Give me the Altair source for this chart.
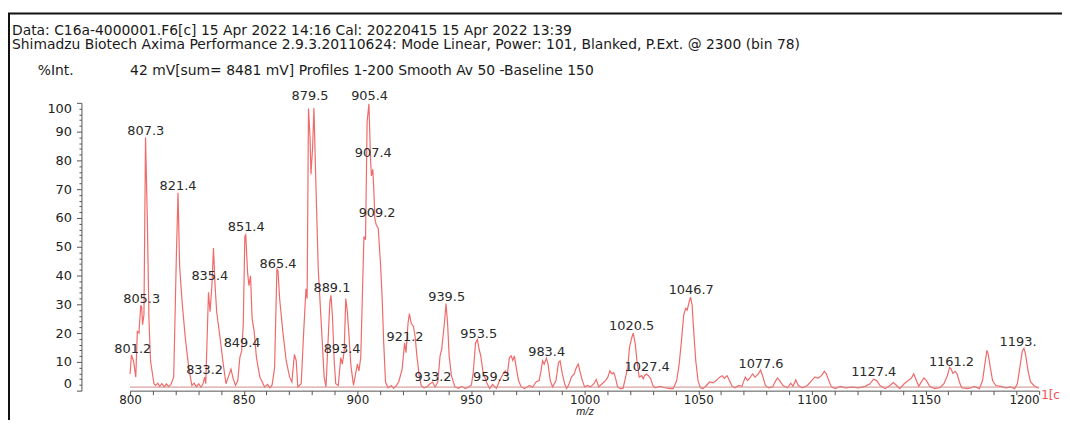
import altair as alt
import pandas as pd

# ---------------- data ----------------
MZ = [800.0, 800.6, 801.5, 802.5, 803.2, 803.9, 804.7, 805.1, 805.5, 806.1, 806.8, 807.6, 808.3, 809.0, 810.5,
      811.2, 812.2, 813.0, 814.0, 815.0, 816.0, 817.0, 818.0, 819.2, 820.4, 821.1, 821.8, 822.9, 824.3, 825.8,
      827.2, 828.2, 829.2, 830.2, 831.2, 832.0, 832.8, 833.3, 834.5, 835.2, 836.0, 836.7, 837.4, 838.1, 839.6,
      841.0, 842.2, 843.2, 844.4, 845.4, 846.4, 847.4, 848.3, 849.1, 849.8, 850.5, 850.9, 851.7, 852.3, 853.0,
      853.7, 854.6, 855.6, 857.1, 859.2, 860.5, 861.5, 862.5, 863.6, 864.6, 865.1, 865.8, 867.2, 868.7, 870.2,
      871.2, 872.3, 873.1, 873.8, 875.3, 876.4, 877.4, 877.9, 878.5, 879.2, 879.6, 880.3, 880.9, 881.8, 882.8,
      884.0, 885.4, 886.2, 887.9, 888.4, 889.1, 889.8, 890.5, 891.6, 892.7, 893.4, 894.2, 894.9, 895.6, 896.4,
      897.1, 898.3, 900.0, 900.7, 901.5, 902.9, 903.6, 904.3, 905.1, 905.8, 906.2, 906.8, 907.3, 907.7, 908.3,
      909.2, 910.2, 910.9, 911.6, 912.4, 913.5, 915.0, 915.9, 917.0, 918.2, 919.7, 920.8, 921.4, 922.3, 922.9,
      923.7, 924.7, 925.4, 926.2, 927.2, 928.1, 929.3, 930.6, 932.0, 933.1, 934.2, 935.4, 936.4, 937.1, 938.3,
      939.0, 939.7, 940.4, 941.4, 942.9, 944.5, 946.0, 947.5, 949.0, 950.2, 951.0, 952.0, 952.8, 953.6, 954.3,
      955.3, 956.8, 958.2, 959.5, 961.2, 962.6, 964.1, 965.1, 966.0, 966.9, 967.7, 968.4, 969.1, 969.9, 970.9,
      972.1, 973.6, 975.7, 977.1, 978.6, 980.0, 980.8, 981.5, 982.2, 983.2, 983.9, 984.9, 985.9, 987.4, 988.5,
      989.2, 990.2, 991.2, 992.1, 993.2, 994.2, 995.4, 996.4, 997.2, 997.9, 999.0, 1000.0, 1001.2, 1002.6, 1004.1,
      1005.1, 1006.2, 1007.7, 1009.2, 1010.2, 1011.1, 1012.1, 1012.8, 1013.5, 1014.5, 1015.7, 1016.9, 1019.0, 1019.7, 1020.7,
      1021.4, 1022.3, 1023.0, 1024.0, 1025.1, 1025.8, 1026.3, 1027.2, 1028.1, 1029.1, 1030.0, 1031.0, 1033.2, 1035.4, 1037.5,
      1039.0, 1040.5, 1041.6, 1042.6, 1043.6, 1044.5, 1045.1, 1046.0, 1046.6, 1047.3, 1048.0, 1048.9, 1049.9, 1050.9, 1052.1,
      1053.6, 1055.0, 1056.5, 1057.9, 1059.4, 1060.5, 1061.5, 1062.7, 1063.7, 1064.9, 1066.3, 1067.8, 1069.2, 1070.7, 1071.7,
      1072.7, 1073.9, 1075.0, 1076.4, 1077.4, 1078.3, 1079.5, 1080.9, 1082.7, 1084.1, 1084.9, 1085.8, 1087.3, 1089.2, 1090.7,
      1091.7, 1092.9, 1094.0, 1095.8, 1098.0, 1099.9, 1101.3, 1102.8, 1104.2, 1105.5, 1106.4, 1107.4, 1108.6, 1110.3, 1112.5,
      1114.7, 1117.6, 1120.5, 1123.4, 1125.6, 1127.1, 1128.5, 1130.0, 1132.2, 1134.3, 1135.8, 1137.3, 1138.7, 1140.6, 1142.4,
      1143.8, 1144.8, 1146.0, 1147.0, 1148.5, 1149.3, 1150.4, 1151.8, 1154.0, 1156.2, 1158.1, 1159.6, 1160.6, 1161.3, 1162.0,
      1163.1, 1163.9, 1164.9, 1165.9, 1168.6, 1170.0, 1171.5, 1173.7, 1175.1, 1176.1, 1177.0, 1177.6, 1178.5, 1179.5, 1180.9,
      1183.1, 1185.3, 1187.5, 1189.2, 1190.4, 1191.5, 1192.6, 1193.3, 1194.0, 1195.1, 1196.2, 1197.7, 1199.1, 1199.8]

INTENSITY = [5.8, 12.4, 10.4, 4.7, 20.6, 20.0, 29.7, 29.0, 22.9, 26.3, 88.0, 59.3, 25.0, 10.4, 2.4,
             1.8, 2.6, 1.4, 2.5, 1.3, 2.3, 1.4, 2.2, 4.7, 47.9, 68.8, 43.3, 30.8, 18.3, 8.1,
             1.8, 2.6, 1.3, 2.4, 1.2, 2.2, 4.7, 2.4, 34.2, 27.4, 36.5, 49.6, 36.5, 27.4, 18.3,
             9.2, 2.4, 4.7, 7.5, 4.1, 1.8, 3.5, 11.5, 13.8, 22.9, 53.6, 54.2, 41.1, 36.5, 39.9,
             25.1, 20.6, 11.5, 4.7, 1.3, 2.2, 1.0, 2.0, 8.1, 42.2, 41.6, 32.0, 20.6, 10.4, 4.7,
             3.0, 12.6, 10.4, 1.3, 2.4, 20.6, 35.4, 32.0, 98.0, 87.7, 75.2, 84.3, 98.2, 70.6, 42.2,
             25.1, 4.7, 1.3, 30.8, 33.1, 25.1, 10.4, 2.4, 1.8, 11.5, 9.2, 13.8, 32.0, 27.4, 18.3,
             9.2, 1.8, 9.2, 6.9, 11.5, 53.6, 52.4, 93.4, 99.7, 80.3, 74.6, 76.9, 68.9, 59.8, 57.6,
             56.4, 43.9, 32.5, 16.6, 3.0, 1.0, 1.8, 0.8, 1.6, 3.0, 7.5, 16.6, 13.2, 23.4, 26.8,
             23.4, 22.3, 18.9, 12.1, 5.2, 1.8, 1.0, 1.3, 2.4, 3.0, 1.3, 3.0, 12.1, 14.3, 23.4,
             30.3, 23.4, 12.1, 5.2, 1.3, 0.8, 1.5, 0.7, 1.3, 2.0, 6.4, 16.6, 17.7, 14.3, 12.1,
             6.4, 3.0, 0.7, 2.2, 0.8, 3.5, 5.8, 6.9, 5.8, 11.5, 12.1, 10.5, 12.1, 8.1, 3.5,
             1.3, 0.7, 1.8, 1.2, 3.0, 3.5, 6.9, 10.4, 9.2, 11.3, 9.2, 3.5, 1.3, 3.5, 9.8,
             10.4, 5.8, 2.4, 0.7, 2.4, 4.7, 5.8, 8.1, 9.2, 6.9, 3.5, 1.3, 1.8, 1.3, 2.4,
             3.9, 1.3, 2.4, 3.5, 4.7, 6.9, 5.8, 6.3, 4.7, 1.3, 0.7, 0.8, 8.1, 14.9, 18.3,
             20.0, 16.0, 10.4, 4.7, 5.2, 4.1, 5.2, 5.8, 5.2, 4.1, 1.8, 1.0, 1.5, 1.0, 0.7,
             0.7, 3.5, 9.2, 17.2, 26.3, 28.6, 28.0, 30.8, 32.5, 29.7, 20.6, 10.4, 3.5, 1.0, 0.7,
             1.8, 3.0, 2.7, 3.5, 4.7, 5.2, 4.3, 5.2, 3.5, 1.5, 1.0, 1.8, 1.5, 4.7, 3.5,
             4.4, 5.8, 4.7, 5.8, 7.2, 5.2, 1.8, 1.0, 1.3, 3.5, 4.4, 3.5, 1.8, 1.0, 2.6,
             1.5, 3.8, 1.8, 1.0, 1.8, 3.5, 4.7, 4.4, 5.2, 6.7, 5.8, 3.5, 1.3, 0.7, 1.5,
             1.0, 1.2, 1.0, 1.5, 2.4, 4.0, 3.5, 1.8, 0.7, 1.8, 2.8, 1.8, 0.7, 2.4, 3.5,
             4.4, 5.8, 3.5, 1.5, 3.5, 4.4, 3.5, 1.5, 0.7, 1.0, 2.4, 5.2, 8.1, 7.5, 6.0,
             6.7, 5.8, 3.0, 1.0, 0.7, 1.0, 1.5, 0.7, 3.5, 9.2, 14.0, 12.6, 8.1, 3.5, 1.8,
             1.5, 1.0, 1.3, 0.7, 2.4, 8.1, 13.8, 14.7, 12.6, 6.9, 3.0, 1.8, 1.0, 0.9]

PEAK_LABELS = ["801.2", "805.3", "807.3", "821.4", "833.2", "835.4", "849.4", "851.4", "865.4",
               "879.5", "889.1", "893.4", "905.4", "907.4", "909.2", "921.2", "933.2", "939.5",
               "953.5", "959.3", "983.4", "1020.5", "1027.4", "1046.7", "1077.6", "1127.4",
               "1161.2", "1193."]
LABEL_MZ = [801.2, 805.1, 806.9, 821.1, 832.8, 835.1, 849.3, 851.1, 865.1,
            879.2, 888.8, 893.3, 905.4, 907.0, 908.7, 921.0, 933.3, 939.3,
            953.4, 959.0, 983.3, 1020.7, 1027.5, 1046.9, 1077.6, 1127.2,
            1161.4, 1190.7]
LABEL_INT = [14.6, 32.0, 90.2, 71.2, 7.3, 39.9, 16.5, 56.7, 44.1,
             102.5, 35.8, 14.3, 102.5, 82.6, 61.8, 18.7, 4.7, 32.5,
             19.7, 4.7, 13.5, 22.6, 8.1, 34.8, 9.2, 6.4,
             10.1, 17.0]

X_TICKS = list(range(800, 1201, 10))
Y_TICKS = list(range(0, 101, 2))

HEADER_1 = "Data: C16a-4000001.F6[c] 15 Apr 2022 14:16 Cal: 20220415 15 Apr 2022 13:39"
HEADER_2 = ("Shimadzu Biotech Axima Performance 2.9.3.20110624: Mode Linear, Power: 101, "
            "Blanked, P.Ext. @ 2300 (bin 78)")
Y_LABEL = "%Int."
INFO = "42 mV[sum= 8481 mV]  Profiles 1-200 Smooth Av 50 -Baseline 150"
TRACE_TAG = "1[c"

# ---------------- chart ----------------
FONT = "DejaVu Sans"
W, H = 916, 290
TOP = 94  # padding above the plot area

spec_df = pd.DataFrame({"mz": MZ, "intensity": INTENSITY})
lab_df = pd.DataFrame({"mz": LABEL_MZ, "intensity": LABEL_INT, "label": PEAK_LABELS})

xscale = alt.Scale(domain=[800, 1200], nice=False, zero=False)
yscale = alt.Scale(domain=[0, 100], nice=False, zero=False)


def make_x_axis():
    return alt.Axis(
        values=X_TICKS, format="d", title="m/z",
        labelExpr="datum.value % 50 === 0 ? datum.label : ''",
        labelAlign={"condition": {"test": "datum.value === 1200", "value": "right"}, "value": "center"},
        labelFont=FONT, labelFontSize=12, labelColor="#222", labelPadding=0,
        tickSize=4, tickColor="#555", domainColor="#555", grid=False,
        titleFont="Liberation Sans", titleFontStyle="italic", titleFontWeight="normal",
        titleFontSize=11, titleColor="#222", titlePadding=0, labelFlush=False,
    )


def make_y_axis():
    return alt.Axis(
        values=Y_TICKS, format="d", title=None, offset=49,
        labelExpr="datum.value % 10 === 0 ? datum.label : ''",
        tickSize={"condition": {"test": "datum.value % 10 === 0", "value": 5}, "value": 2.5},
        labelFont=FONT, labelFontSize=13, labelColor="#222", labelPadding=5,
        tickColor="#555", domainColor="#555", grid=False, labelFlush=True,
    )


line = alt.Chart(spec_df).mark_line(color="#f06a6a", strokeWidth=1.2).encode(
    x=alt.X("mz:Q", scale=xscale, axis=make_x_axis()),
    y=alt.Y("intensity:Q", scale=yscale, axis=make_y_axis()),
)

labels = alt.Chart(lab_df).mark_text(
    font=FONT, fontSize=13, color="#2a2a2a", align="center", baseline="middle"
).encode(
    x=alt.X("mz:Q", scale=xscale, axis=make_x_axis()),
    y=alt.Y("intensity:Q", scale=yscale, axis=make_y_axis()),
    text="label:N",
)

one = alt.Data(values=[{}])

base_rule = alt.Chart(one).mark_rule(color="#d08a8a", strokeWidth=1).encode(
    x=alt.value(0), x2=alt.value(W), y=alt.value(H - 3.6)
)


def txt(s, x, y, color="#1a1a1a", size=14):
    return alt.Chart(one).mark_text(
        font=FONT, fontSize=size, color=color, align="left", baseline="middle"
    ).encode(x=alt.value(x), y=alt.value(y), text=alt.value(s))


# page y of each header line minus page y of the plot top (8 + TOP)
h1 = txt(HEADER_1, -119, 30 - 8 - TOP)
h2 = txt(HEADER_2, -119, 44 - 8 - TOP)
h3 = txt(Y_LABEL, -93, 70 - 8 - TOP)
h4 = txt(INFO, 0, 70 - 8 - TOP)
tag = txt(TRACE_TAG, 918, H + 4, color="#f05050", size=12)

frame_top = alt.Chart(one).mark_rule(color="#111", strokeWidth=2).encode(
    x=alt.value(-123), x2=alt.value(940), y=alt.value(12 - 8 - TOP)
)
frame_left = alt.Chart(one).mark_rule(color="#111", strokeWidth=2).encode(
    x=alt.value(-122), y=alt.value(12 - 8 - TOP), y2=alt.value(H + 30)
)

chart = alt.layer(
    line, labels, base_rule, h1, h2, h3, h4, tag, frame_top, frame_left
).properties(
    width=W, height=H,
    padding={"left": 123, "top": TOP, "right": 23, "bottom": 412 - TOP - H},
    autosize=alt.AutoSizeParams(type="none"),
).configure_view(strokeWidth=0)

chart.save("out.html", embed_options={"renderer": "svg", "actions": False})
